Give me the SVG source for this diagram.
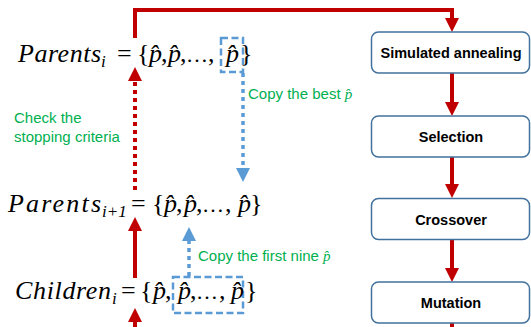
<svg xmlns="http://www.w3.org/2000/svg" width="531" height="327" viewBox="0 0 531 327">
<style>
.bg{fill:#ffffff}
.box rect{fill:#ffffff;stroke:#41719C;stroke-width:1.5}
.box text{font-family:"Liberation Sans",Arial,sans-serif;font-weight:bold;font-size:14.5px;fill:#000;text-anchor:middle}
.math{font-family:"Liberation Serif","Times New Roman",serif;font-size:26px;fill:#000}
.it{font-style:italic}
.sub{font-size:17px;font-style:italic}
.el{font-size:22px}
.note{font-family:"Liberation Sans",Arial,sans-serif;font-size:15px;fill:#00B050}
.red{stroke:#C00000;stroke-width:4;fill:none}
.reddot{stroke:#C00000;stroke-width:4;fill:none;stroke-dasharray:4 4}
.bluedot{stroke:#5B9BD5;stroke-width:3.5;fill:none;stroke-dasharray:4 4}
.dashbox{stroke:#5B9BD5;stroke-width:2.5;fill:none;stroke-dasharray:7 3.5}
</style>
<defs>
<marker id="ar" markerUnits="userSpaceOnUse" markerWidth="14" markerHeight="14" refX="4" refY="7" orient="auto" viewBox="0 0 14 14">
<path d="M0,0 L14,7 L0,14 z" fill="#C00000"/>
</marker>
<marker id="ab" markerUnits="userSpaceOnUse" markerWidth="14" markerHeight="14" refX="4" refY="7" orient="auto" viewBox="0 0 14 14">
<path d="M0,0 L14,7 L0,14 z" fill="#5B9BD5"/>
</marker>
</defs>
<rect class="bg" x="0" y="0" width="531" height="327"/>

<g id="connectors">
<path class="red" d="M135,38 L135,10 L452,10 L452,22" marker-end="url(#ar)"/>
<path class="red" d="M452,73 L452,106" marker-end="url(#ar)"/>
<path class="red" d="M452,157 L452,188" marker-end="url(#ar)"/>
<path class="red" d="M452,240 L452,272" marker-end="url(#ar)"/>
<path class="red" d="M452,323 L452,335"/>
<path class="reddot" d="M135,190 L135,77" marker-end="url(#ar)"/>
<path class="red" d="M135,278 L135,227" marker-end="url(#ar)"/>
<path class="red" d="M135,335 L135,318" marker-end="url(#ar)"/>
<path class="bluedot" d="M243,73 L243,172" marker-end="url(#ab)"/>
<path class="bluedot" d="M189,276 L189,237" marker-end="url(#ab)"/>
<rect class="dashbox" x="221" y="38" width="22" height="34"/>
<rect class="dashbox" x="173" y="277" width="70" height="36"/>
</g>

<g id="sa" class="box"><rect x="371.5" y="32" width="158" height="41" rx="7"/><text x="451" y="58">Simulated annealing</text></g>
<g id="selection" class="box"><rect x="371.5" y="116" width="158" height="41" rx="7"/><text x="451" y="142">Selection</text></g>
<g id="crossover" class="box"><rect x="371.5" y="198.5" width="158" height="41" rx="7"/><text x="451" y="224.5">Crossover</text></g>
<g id="mutation" class="box"><rect x="371.5" y="282" width="158" height="41" rx="7"/><text x="451" y="308">Mutation</text></g>

<g id="parents-i" class="math">
<text y="62"><tspan x="18" class="it" textLength="83" lengthAdjust="spacing">Parents</tspan><tspan x="101" y="67" class="sub">i</tspan><tspan x="117" y="62">=</tspan><tspan x="137">{</tspan><tspan x="149" class="it">p̂</tspan><tspan x="161">,</tspan><tspan x="168" class="it">p̂</tspan><tspan x="180">,</tspan><tspan x="186" class="el">…</tspan><tspan x="208">,</tspan><tspan x="226" class="it">p̂</tspan><tspan x="240">}</tspan></text>
</g>

<g id="parents-i1" class="math">
<text y="212"><tspan x="8" class="it" textLength="93" lengthAdjust="spacing">Parents</tspan><tspan x="102" y="217" class="sub">i+1</tspan><tspan x="131" y="212">=</tspan><tspan x="152">{</tspan><tspan x="164" class="it">p̂</tspan><tspan x="176">,</tspan><tspan x="184" class="it">p̂</tspan><tspan x="196">,</tspan><tspan x="202" class="el">…</tspan><tspan x="225">,</tspan><tspan x="238" class="it">p̂</tspan><tspan x="250">}</tspan></text>
</g>

<g id="children-i" class="math">
<text y="299"><tspan x="15" class="it" textLength="96" lengthAdjust="spacing">Children</tspan><tspan x="112" y="304" class="sub">i</tspan><tspan x="121" y="299">=</tspan><tspan x="140">{</tspan><tspan x="153" class="it">p̂</tspan><tspan x="165">,</tspan><tspan x="178" class="it">p̂</tspan><tspan x="190">,</tspan><tspan x="196" class="el">…</tspan><tspan x="219">,</tspan><tspan x="231" class="it">p̂</tspan><tspan x="245">}</tspan></text>
</g>

<g id="note-stop"><text class="note" x="14" y="123">Check the</text><text class="note" x="14" y="142">stopping criteria</text></g>
<g id="note-best"><text class="note" x="248" y="99">Copy the best <tspan font-family="Liberation Serif,serif" font-style="italic">p̂</tspan></text></g>
<g id="note-nine"><text class="note" x="198" y="261">Copy the first nine <tspan font-family="Liberation Serif,serif" font-style="italic">p̂</tspan></text></g>
</svg>
